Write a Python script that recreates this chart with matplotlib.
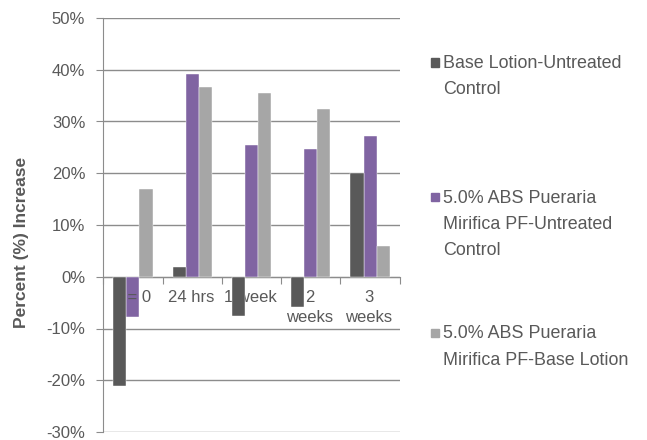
import matplotlib
matplotlib.use("Agg")
import matplotlib.pyplot as plt
from matplotlib.patches import Rectangle
import numpy as np

plt.rcParams['font.family'] = ['Liberation Sans', 'DejaVu Sans']

categories = ["T = 0", "24 hrs", "1 week", "2\nweeks", "3\nweeks"]
series_names = ["Base Lotion-Untreated\nControl",
                "5.0% ABS Pueraria\nMirifica PF-Untreated\nControl",
                "5.0% ABS Pueraria\nMirifica PF-Base Lotion"]
base_vs_untreated = [-21.1, 1.8, -7.5, -5.9, 20.1]
abs_vs_untreated = [-7.7, 39.2, 25.4, 24.7, 27.2]
abs_vs_base = [17.0, 36.7, 35.6, 32.5, 5.9]
yticks = [-30, -20, -10, 0, 10, 20, 30, 40, 50]

colors = ["#595959", "#8064A2", "#A6A6A6"]
txt = "#595959"
grid_c = "#8C8C8C"

fig = plt.figure(figsize=(6.47, 4.40), dpi=100)
ax = fig.add_axes([103.3/647, 8/440, (399.7-103.3)/647, (432-18)/440])

x = np.arange(len(categories)) + 0.5
w = 0.22
zorders = [5, 3, 3]
for k, vals in enumerate([base_vs_untreated, abs_vs_untreated, abs_vs_base]):
    ax.bar(x + (k-1)*w, vals, width=w, color=colors[k], zorder=zorders[k],
           edgecolor='white', linewidth=0.3)

ax.set_xlim(0, 5)
ax.set_ylim(-30, 50)
ax.set_yticks(yticks)
ax.set_yticklabels([f"{t}%" for t in yticks], fontsize=12, color=txt)
ax.yaxis.grid(True, color=grid_c, linewidth=1.0, zorder=0)
ax.set_axisbelow(True)

for s in ['top', 'right']:
    ax.spines[s].set_visible(False)
ax.spines['left'].set_color(grid_c)
ax.spines['bottom'].set_color(grid_c)
ax.spines['bottom'].set_position(('data', 0))
ax.spines['bottom'].set_zorder(1)
ax.set_xticks(np.arange(0, 6))
ax.set_xticklabels([])
ax.tick_params(axis='x', direction='out', length=5, color=grid_c)
ax.tick_params(axis='y', direction='out', length=5, color=grid_c, pad=8)

for xi, lab in zip(x, categories):
    ax.annotate(lab, xy=(xi, 0), xycoords='data', xytext=(-1, -13),
                textcoords='offset pixels', ha='center', va='top',
                fontsize=12, color=txt, zorder=4, linespacing=1.4)

fig.text(22/647, 1-242/440, "Percent (%) Increase", rotation=90, ha='center',
         va='center', fontsize=12.5, fontweight='bold', color=txt)

first_line_y = [62.5, 197, 333]
for name, c, yc in zip(series_names, colors, first_line_y):
    fig.patches.append(Rectangle((431/647, 1-(yc+4.2)/440), 8.4/647, 8.4/440,
                                 transform=fig.transFigure, color=c))
    fig.text(443/647, 1-(yc-7.5)/440, name, ha='left', va='top',
             fontsize=12.9, color=txt, linespacing=1.7)

fig.savefig("out.png", dpi=100)
